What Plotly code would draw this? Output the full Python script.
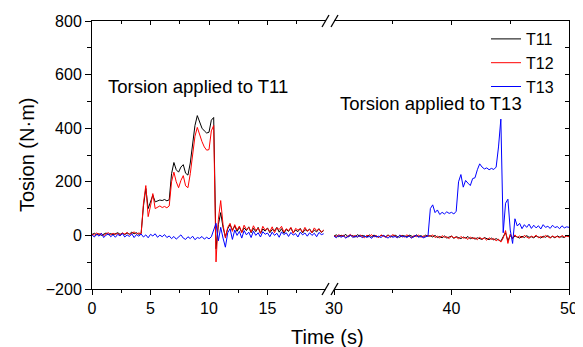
import numpy as np
import plotly.graph_objects as go

# ---------------- data ----------------
# left segment: time 0.0 .. 19.8 s (step 0.2)
t_left = np.round(np.arange(0, 19.81, 0.2), 2)
# right segment: time 30.0 .. 50.0 s (step 0.2)
t_right = np.round(np.arange(30, 50.01, 0.2), 2)

T11_left = [3, 8, 2, 6, 0, 5, 9, 3, 7, 2, 6, 10, 4, 8, 3, 9, 5, 12, 6, 10, 4, 8,
            110, 175, 100, 130, 150, 125, 128, 132, 130, 134, 129, 133,
            230, 272, 245, 236, 255, 264, 232, 225,
            270, 340, 410, 447, 420, 400, 390, 382, 385, 430, 440, -50,
            40, 85, 30, -5, 25, 40, 20, 35, 15, 30, 12, 28, 18, 32, 10, 26, 14, 30, 8, 24,
            16, 28, 10, 22, 18, 30, 12, 25, 8, 22, 15, 28, 10, 20, 14, 26, 9, 22, 16, 24,
            10, 20, 13, 25, 11, 18]
T12_left = [5, 1, 9, 4, 7, -1, 6, 10, 2, 8, 4, 7, 1, 9, 5, 11, 3, 8, 13, 5, 9, 6,
            120, 186, 70, 110, 156, 100, 105, 110, 104, 108, 103, 110,
            200, 236, 200, 178, 205, 223, 185, 178,
            230, 300, 370, 403, 375, 350, 330, 318, 320, 390, 410, -99,
            60, 130, 40, -10, 30, 45, 15, 40, 20, 35, 10, 38, 22, 30, 12, 36, 18, 28, 8, 34,
            20, 26, 14, 32, 10, 28, 22, 34, 12, 25, 18, 30, 8, 26, 20, 24, 12, 30, 16, 22,
            10, 28, 18, 24, 12, 20]
T13_left = [2, -6, 5, -3, 8, -8, 1, 6, -5, 3, -7, 4, -2, 7, -6, 2, -4, 6, -8, 3,
            -3, 5, -6, 2, -9, 4, -2, 6, -7, 1, -5, 3, -8,
            -2, -12, -4, -14, -6, 2, -10, -15, -5, -12, -3, -16, -8, -11, -4, -14, -7, -13, -5,
            20, 45, -20, 30, -10, -44, 10, 25, -15, 20, 0, 15, -10, 18, 2, 12, -8, 16, 0, 10,
            -6, 14, 4, 9, -5, 12, 0, 8, -7, 13, 3, 10, -4, 11, 1, 7, -6, 12, 2, 9,
            -3, 10, 0, 8, -5, 11, 3, 6]

T11_right = [-2, 2, -5, 1, -3, 4, -6, 0, -1, -7, 3, -4, 0, -2, -6, 2, -5, 1, -3, -7,
             0, -1, -5, 2, -6, -2, 1, -4, -7, 0, -3, -5, 1, -2, -6, 2, -4, -1, -6, 1, -3,
             -1, -6, 0, -8, -4, -9, -2, -10, -6, -3, -11, -5, -8, -12, -6, -10, -4, -13, -8, -14,
             -9, -11, -15, -8, -13, -16, -10, -17, -12, -18, -22,
             -5, 10, -20, 0, -12, -2, -6, -10, -3, -8, -1, -7, -5, -9, -2, -6, -10, -3, -7, -1,
             -8, -4, -9, -2, -6, -5, -8, -1, -4]
T12_right = [0, -6, 3, -4, 1, -8, -2, 4, -5, 0, -7, 2, -3, -9, 1, -4, 3, -6, -1, -8,
             2, -3, -7, 0, -5, 3, -2, -8, 1, -4, -6, 2, -3, -9, 0, -5, 1, -7, -2, -4, 0,
             -4, 2, -8, -3, -10, -1, -7, -5, -12, -2, -9, -6, -13, -4, -10, -8, -15, -6, -12, -9,
             -16, -7, -14, -10, -18, -9, -15, -12, -20, -14, -25,
             -10, 18, -30, 5, -10, 2, -8, -2, -9, 0, -6, -11, -3, -7, 1, -9, -4, -8, 0, -6,
             -10, -2, -7, -4, -9, 0, -6, -3, -5]
T13_right = [-3, -9, 0, -7, -2, -10, -4, 1, -8, -3, -6, 0, -9, -2, -7, -4, -11, -1, -6, -3,
             -8, 0, -5, -10, -2, -7, -4, -9, 1, -6, -3, -8, -2, -10, -4, 0, -7, -3, -9, -5, -2,
             100, 114, 85, 95, 78, 86, 80, 88, 82, 86, 80,
             90, 200, 227, 180, 205, 195, 186, 212,
             215, 245, 267, 255, 248, 252, 245, 250, 246, 255, 330, 434,
             10, 120, 135, 20, -30, 62, 35, 45, 25, 40, 30, 42, 26, 38, 28, 36, 24, 40, 30, 34,
             26, 38, 29, 33, 25, 36, 28, 32, 30]

series_names = ["T11", "T12", "T13"]
series_colors = ["#000000", "#FF0000", "#0000FF"]
left_vals = [T11_left, T12_left, T13_left]
right_vals = [T11_right, T12_right, T13_right]

y_ticks = [-200, 0, 200, 400, 600, 800]
x_left_ticks = [0, 5, 10, 15]
x_right_ticks = [30, 40, 50]

# ---------------- figure ----------------
FONT = "Arial, Liberation Sans, sans-serif"
OFF = 8  # page body margin offset
W, H = 583 - OFF, 347 - OFF
# target plot area in window pixels: x 92..569, y 21..289
ML, MT = 92 - OFF, 21 - OFF
MR, MB = W - (569 - OFF), H - (289 - OFF)
PW, PH = W - ML - MR, H - MT - MB


def px_x(p):
    return (p - OFF - ML) / PW


def px_y(p):
    return 1 - (p - OFF - MT) / PH


left_end = px_x(326)
right_start = px_x(334)

fig = go.Figure()
for name, col, lv in zip(series_names, series_colors, left_vals):
    fig.add_trace(go.Scatter(x=t_left, y=lv, mode="lines", name=name,
                             line=dict(color=col, width=1), xaxis="x", yaxis="y"))
for name, col, rv in zip(series_names, series_colors, right_vals):
    fig.add_trace(go.Scatter(x=t_right, y=rv, mode="lines", name=name, showlegend=False,
                             line=dict(color=col, width=1), xaxis="x2", yaxis="y"))
# dummy traces for frame axes
fig.add_trace(go.Scatter(x=[], y=[], xaxis="x3", yaxis="y", showlegend=False, hoverinfo="skip"))
fig.add_trace(go.Scatter(x=[], y=[], xaxis="x4", yaxis="y", showlegend=False, hoverinfo="skip"))
fig.add_trace(go.Scatter(x=[], y=[], xaxis="x2", yaxis="y2", showlegend=False, hoverinfo="skip"))

tickfont = dict(family=FONT, size=16, color="black")
common_x = dict(showline=True, linecolor="black", linewidth=1, showgrid=False, zeroline=False,
                tickfont=tickfont, tickcolor="black")

fig.update_layout(
    width=W, height=H,
    margin=dict(l=ML, r=MR, t=MT, b=MB, autoexpand=False),
    paper_bgcolor="white", plot_bgcolor="white",
    font=dict(family=FONT, color="black"),
    showlegend=True,
    legend=dict(x=px_x(486), y=px_y(22), xanchor="left", yanchor="top",
                bgcolor="rgba(0,0,0,0)", borderwidth=0,
                font=dict(family=FONT, size=16, color="black")),
    xaxis=dict(domain=[0, left_end], range=[0, 20], anchor="y",
               tickmode="array", tickvals=x_left_ticks, ticks="outside", ticklen=5,
               minor=dict(tickmode="array", tickvals=[2.5, 7.5, 12.5, 17.5], ticks="outside",
                          ticklen=3, tickcolor="black"),
               **common_x),
    xaxis2=dict(domain=[right_start, 1], range=[30, 50], anchor="y",
                tickmode="array", tickvals=x_right_ticks, ticks="outside", ticklen=5,
                minor=dict(tickmode="array", tickvals=[35, 45], ticks="outside",
                           ticklen=3, tickcolor="black"),
                **common_x),
    xaxis3=dict(overlaying="x", side="top", range=[0, 20], anchor="y",
                tickmode="array", tickvals=x_left_ticks, ticks="inside", ticklen=4,
                showticklabels=False,
                minor=dict(tickmode="array", tickvals=[2.5, 7.5, 12.5, 17.5], ticks="inside",
                           ticklen=3, tickcolor="black"),
                **common_x),
    xaxis4=dict(overlaying="x2", side="top", range=[30, 50], anchor="y",
                tickmode="array", tickvals=x_right_ticks, ticks="inside", ticklen=4,
                showticklabels=False,
                minor=dict(tickmode="array", tickvals=[35, 45], ticks="inside",
                           ticklen=3, tickcolor="black"),
                **common_x),
    yaxis=dict(range=[-200, 800], anchor="x", tickmode="array", tickvals=y_ticks,
               ticks="outside", ticklen=6, showline=True, linecolor="black", linewidth=1,
               showgrid=False, zeroline=False, tickfont=tickfont, tickcolor="black",
               minor=dict(tickmode="array", tickvals=[-100, 100, 300, 500, 700],
                          ticks="outside", ticklen=4, tickcolor="black")),
    yaxis2=dict(overlaying="y", side="right", anchor="x2", range=[-200, 800],
                tickmode="array", tickvals=y_ticks, ticks="inside", ticklen=4,
                showticklabels=False, showline=True, linecolor="black", linewidth=1,
                showgrid=False, zeroline=False, tickcolor="black",
                minor=dict(tickmode="array", tickvals=[-100, 100, 300, 500, 700],
                           ticks="inside", ticklen=4, tickcolor="black")),
)

# axis titles and text labels
fig.add_annotation(text="Time (s)", x=px_x(327), y=px_y(337), xref="paper", yref="paper",
                   showarrow=False, xanchor="center", yanchor="middle",
                   font=dict(family=FONT, size=20, color="black"))
fig.add_annotation(text="Tosion (N·m)", x=px_x(27), y=px_y(155), xref="paper", yref="paper",
                   showarrow=False, textangle=-90, xanchor="center", yanchor="middle",
                   font=dict(family=FONT, size=20, color="black"))
fig.add_annotation(text="Torsion applied to T11", x=px_x(198), y=px_y(86), xref="paper",
                   yref="paper", showarrow=False, xanchor="center", yanchor="middle",
                   font=dict(family=FONT, size=18.5, color="black"))
fig.add_annotation(text="Torsion applied to T13", x=px_x(431), y=px_y(104), xref="paper",
                   yref="paper", showarrow=False, xanchor="center", yanchor="middle",
                   font=dict(family=FONT, size=18.5, color="black"))

# axis-break marks (//) on the bottom and top axes
for (x0, x1) in [(322, 329), (331, 338)]:
    for (yb, yt) in [(295, 283), (27, 15)]:
        fig.add_shape(type="line", xref="paper", yref="paper",
                      x0=px_x(x0), y0=px_y(yb), x1=px_x(x1), y1=px_y(yt),
                      line=dict(color="black", width=1.3))

fig.write_html("out.html")
